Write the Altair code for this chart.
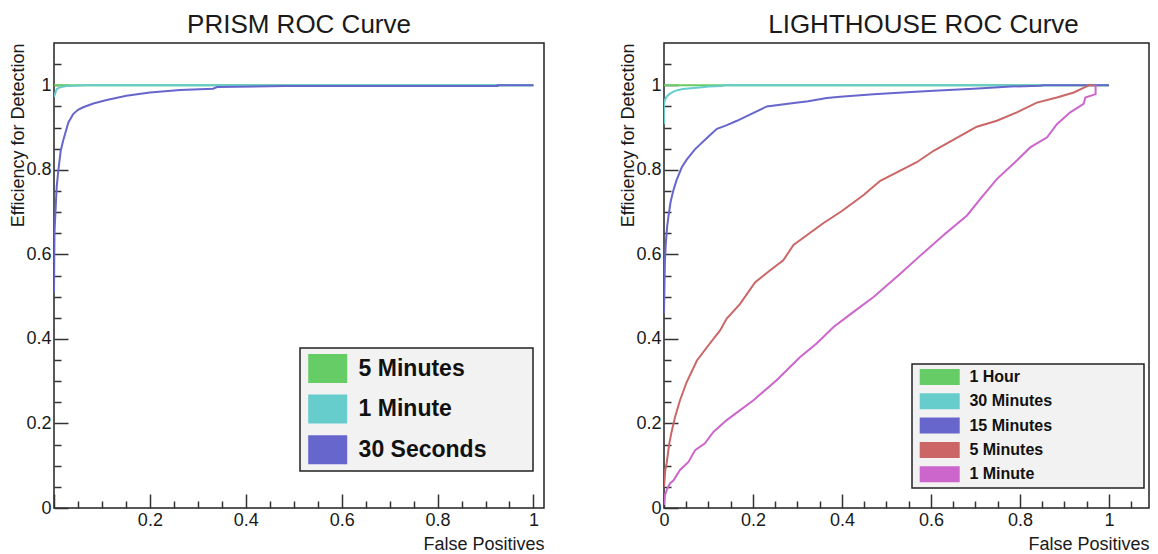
import altair as alt
import pandas as pd

FONT = "Liberation Sans"

# ---------------- PRISM panel data ----------------
PRISM_SERIES = ["5 Minutes", "1 Minute", "30 Seconds"]
PRISM_COLORS = ["#66cc66", "#66cccc", "#6666cc"]

prism_5min_x = [0.0, 1.0]
prism_5min_y = [1.0, 1.0]

prism_1min_x = [0.0, 0.002, 0.0056, 0.0125, 0.026, 0.045, 0.065, 1.0]
prism_1min_y = [0.972, 0.979, 0.991, 0.995, 0.998, 0.999, 1.0, 1.0]

prism_30s_x = [0.0, 0.001, 0.003, 0.0056, 0.009, 0.014, 0.019, 0.03, 0.04, 0.05, 0.061,
               0.082, 0.11, 0.151, 0.2, 0.263, 0.332, 0.34, 0.48, 0.7, 0.925, 0.925, 1.0]
prism_30s_y = [0.51, 0.65, 0.70, 0.759, 0.798, 0.845, 0.869, 0.912, 0.932, 0.942, 0.948,
               0.957, 0.965, 0.975, 0.983, 0.989, 0.992, 0.996, 0.998, 0.998, 0.998, 1.0, 1.0]

# ---------------- LIGHTHOUSE panel data ----------------
LH_SERIES = ["1 Hour", "30 Minutes", "15 Minutes", "5 Minutes", "1 Minute"]
LH_COLORS = ["#66cc66", "#66cccc", "#6666cc", "#cc6666", "#cc66cc"]

lh_1hour_x = [0.0, 1.0]
lh_1hour_y = [1.0, 1.0]

lh_30min_x = [0.0, 0.0, 0.002, 0.006, 0.012, 0.021, 0.032, 0.043, 0.06, 0.08, 0.1, 0.13, 0.135, 1.0]
lh_30min_y = [0.908, 0.955, 0.965, 0.973, 0.979, 0.985, 0.989, 0.991, 0.993, 0.995, 0.997, 0.998, 1.0, 1.0]

lh_15min_x = [0.0, 0.002, 0.004, 0.007, 0.01, 0.015, 0.021, 0.028, 0.04, 0.051, 0.07, 0.1, 0.119,
              0.14, 0.164, 0.2, 0.231, 0.283, 0.324, 0.366, 0.396, 0.471, 0.556, 0.606, 0.696,
              0.78, 0.845, 0.853, 1.0]
lh_15min_y = [0.46, 0.58, 0.625, 0.665, 0.69, 0.725, 0.751, 0.775, 0.806, 0.824, 0.849, 0.879, 0.897,
              0.905, 0.916, 0.934, 0.95, 0.957, 0.962, 0.97, 0.973, 0.979, 0.984, 0.987, 0.992,
              0.997, 0.999, 1.0, 1.0]

lh_5min_x = [0.0, 0.003, 0.006, 0.009, 0.012, 0.017, 0.025, 0.036, 0.051, 0.074, 0.1, 0.126, 0.141,
             0.171, 0.205, 0.238, 0.268, 0.291, 0.357, 0.399, 0.448, 0.486, 0.531, 0.568, 0.606,
             0.681, 0.703, 0.748, 0.793, 0.838, 0.883, 0.921, 0.945, 0.955, 0.968]
lh_5min_y = [0.05, 0.09, 0.106, 0.13, 0.153, 0.18, 0.216, 0.255, 0.298, 0.349, 0.385, 0.42, 0.448,
             0.483, 0.534, 0.562, 0.586, 0.622, 0.673, 0.702, 0.74, 0.774, 0.798, 0.818, 0.845,
             0.889, 0.902, 0.916, 0.936, 0.959, 0.971, 0.983, 0.995, 1.0, 1.0]

lh_1min_x = [0.0, 0.002, 0.007, 0.0135, 0.021, 0.036, 0.055, 0.07, 0.092, 0.111, 0.141, 0.201,
             0.253, 0.306, 0.343, 0.381, 0.426, 0.471, 0.531, 0.576, 0.628, 0.681, 0.711, 0.748,
             0.793, 0.823, 0.861, 0.883, 0.913, 0.943, 0.947, 0.97, 0.97]
lh_1min_y = [0.007, 0.03, 0.045, 0.058, 0.065, 0.09, 0.109, 0.137, 0.153, 0.18, 0.208, 0.255,
             0.302, 0.357, 0.389, 0.428, 0.464, 0.499, 0.554, 0.597, 0.645, 0.692, 0.731, 0.778,
             0.822, 0.853, 0.877, 0.908, 0.936, 0.956, 0.971, 0.979, 1.0]

# ---------------- axis tick values ----------------
X_LABELS_LEFT = [0.2, 0.4, 0.6, 0.8, 1.0]
X_LABELS_RIGHT = [0.0, 0.2, 0.4, 0.6, 0.8, 1.0]
Y_LABELS = [0.0, 0.2, 0.4, 0.6, 0.8, 1.0]
MAJOR_TICKS = [0.0, 0.2, 0.4, 0.6, 0.8, 1.0]
MINOR_TICKS_100 = [0.05, 0.1, 0.15, 0.25, 0.3, 0.35, 0.45, 0.5, 0.55, 0.65, 0.7, 0.75, 0.85, 0.9, 0.95]
MINOR_TICKS_105 = MINOR_TICKS_100 + [1.05]

HEIGHT = 465
Y_MAX = 1.1


def make_df(names, xs_list, ys_list):
    rows = []
    for name, xs, ys in zip(names, xs_list, ys_list):
        for i, (x, y) in enumerate(zip(xs, ys)):
            rows.append({"series": name, "fp": x, "eff": y, "idx": i})
    return pd.DataFrame(rows)


def panel(title, names, colors, xs_list, ys_list, x_max, width, x_label_vals,
          x_minor, legend, title_dx):
    df = make_df(names, xs_list, ys_list)
    xscale = alt.Scale(domain=[0, x_max], nice=False, zero=False)
    yscale = alt.Scale(domain=[0, Y_MAX], nice=False, zero=False)
    base = alt.Chart(df)

    layers = []
    for k, (name, col) in enumerate(zip(names, colors)):
        if k == 0:
            xax = alt.Axis(orient="bottom", values=x_label_vals, format="~g", ticks=False,
                           domain=False, labelPadding=3, labelFlush=False,
                           title="False Positives", titleX=width, titleY=41,
                           titleAlign="right", titleBaseline="alphabetic")
            yax = alt.Axis(orient="left", values=Y_LABELS, format="~g", ticks=False,
                           domain=False, labelPadding=3, labelFlush=False,
                           title="Efficiency for Detection", titleAngle=270,
                           titleX=-31, titleY=0, titleAlign="right",
                           titleBaseline="alphabetic")
        else:
            xax = None
            yax = None
        layers.append(
            base.transform_filter(alt.datum.series == name)
            .mark_line(strokeWidth=2, clip=True, color=col)
            .encode(
                x=alt.X("fp:Q", scale=xscale, axis=xax),
                y=alt.Y("eff:Q", scale=yscale, axis=yax),
                order="idx:Q",
            )
        )

    def tick_layer(xvals, yvals, size):
        return base.mark_point(opacity=0).encode(
            x=alt.X("fp:Q", scale=xscale,
                    axis=alt.Axis(orient="top", offset=-HEIGHT, values=xvals, labels=False,
                                  domain=False, tickSize=size, title=None)),
            y=alt.Y("eff:Q", scale=yscale,
                    axis=alt.Axis(orient="right", offset=-width, values=yvals, labels=False,
                                  domain=False, tickSize=size, title=None)),
        )

    layers.append(tick_layer(MAJOR_TICKS, MAJOR_TICKS, 14))
    layers.append(tick_layer(x_minor, MINOR_TICKS_105, 7))

    leg_df = pd.DataFrame({"series": names})
    layers.append(
        alt.Chart(leg_df).mark_point(filled=True, opacity=0).encode(
            color=alt.Color("series:N", scale=alt.Scale(domain=names, range=colors),
                            legend=legend)
        )
    )

    return (
        alt.layer(*layers)
        .resolve_axis(x="independent", y="independent")
        .properties(
            width=width,
            height=HEIGHT,
            title=alt.TitleParams(title, dx=title_dx, offset=-16, baseline="alphabetic",
                                  anchor="middle"),
        )
    )


legend_left = alt.Legend(
    orient="none", legendX=246, legendY=305, title=None,
    symbolType="M-1.345,-1H1.345V1H-1.345Z M13.69,0", symbolSize=841,
    symbolStrokeWidth=0, symbolOpacity=1, symbolOffset=7.2,
    labelFont=FONT, labelFontSize=23, labelFontWeight="bold", labelColor="#111111",
    labelOffset=16.4, labelLimit=400, rowPadding=11.6, padding=6,
    fillColor="#f2f2f2", strokeColor="#222222",
)

legend_right = alt.Legend(
    orient="none", legendX=248, legendY=321, title=None,
    symbolType="M-2.5,-1H2.5V1H-2.5Z M24.875,0", symbolSize=256,
    symbolStrokeWidth=0, symbolOpacity=1, symbolOffset=14.7,
    labelFont=FONT, labelFontSize=16, labelFontWeight="bold", labelColor="#111111",
    labelOffset=21.7, labelLimit=400, rowPadding=8.3, padding=5,
    fillColor="#f2f2f2", strokeColor="#222222",
)

left = panel("PRISM ROC Curve", PRISM_SERIES, PRISM_COLORS,
             [prism_5min_x, prism_1min_x, prism_30s_x],
             [prism_5min_y, prism_1min_y, prism_30s_y],
             1.022, 490, X_LABELS_LEFT, MINOR_TICKS_100, legend_left, 0)

right = panel("LIGHTHOUSE ROC Curve", LH_SERIES, LH_COLORS,
              [lh_1hour_x, lh_30min_x, lh_15min_x, lh_5min_x, lh_1min_x],
              [lh_1hour_y, lh_30min_y, lh_15min_y, lh_5min_y, lh_1min_y],
              1.09, 485, X_LABELS_RIGHT, MINOR_TICKS_105, legend_right, 17)

chart = (
    alt.HConcatChart(hconcat=[left, right], spacing=120, bounds="flush")
    .resolve_scale(x="independent", y="independent", color="independent")
    .resolve_legend(color="independent")
    .properties(padding={"left": 0, "top": 3, "right": 0, "bottom": 0})
    .configure_view(stroke="#222222", strokeWidth=1.5)
    .configure_axis(grid=False, labelFont=FONT, labelFontSize=18, labelColor="#1a1a1a",
                    titleFont=FONT, titleFontSize=18, titleFontWeight="normal",
                    titleColor="#1a1a1a", tickColor="#333333", tickWidth=1.5)
    .configure_title(font=FONT, fontSize=26, fontWeight="normal", color="#1a1a1a")
    .configure_legend(strokeWidth=1.5)
)

chart.save("out.html", embed_options={"renderer": "svg", "actions": False})
